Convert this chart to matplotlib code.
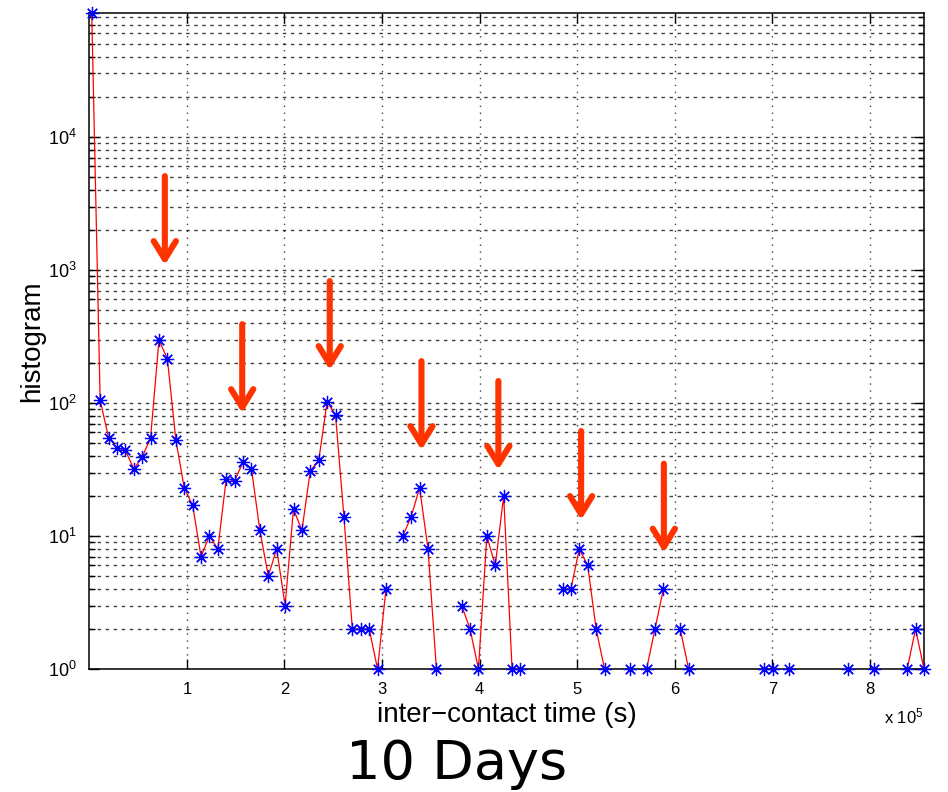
import numpy as np
import matplotlib
matplotlib.use('Agg')
import matplotlib.pyplot as plt
from matplotlib.ticker import FixedLocator, LogLocator, NullFormatter

plt.rcParams['font.family'] = ['Liberation Sans', 'DejaVu Sans']
plt.rcParams['mathtext.fontset'] = 'custom'
plt.rcParams['mathtext.rm'] = 'Liberation Sans'
plt.rcParams['mathtext.default'] = 'regular'

# histogram of inter-contact times, 100 bins (zero bins are not drawn on log axis)
bin_first = 2500.0
bin_width = 8615.0
counts = [85500, 105, 55, 46, 44, 32, 39, 55, 298, 214,
          53, 23, 17, 7, 10, 8, 27, 26, 36, 32,
          11, 5, 8, 3, 16, 11, 31, 37, 102, 81,
          14, 2, 2, 2, 1, 4, 0, 10, 14, 23,
          8, 1, 0, 0, 3, 2, 1, 10, 6, 20,
          1, 1, 0, 0, 0, 0, 4, 4, 8, 6,
          2, 1, 0, 0, 1, 0, 1, 2, 4, 0,
          2, 1, 0, 0, 0, 0, 0, 0, 0, 0,
          1, 1, 0, 1, 0, 0, 0, 0, 0, 0,
          1, 0, 0, 1, 0, 0, 0, 1, 2, 1]

# peaks marked with arrows (x of arrow, y of arrow tip)
arrow_x = [77400, 156700, 246400, 340400, 419200, 504000, 588800]
arrow_tip = [1090, 84, 177, 44.3, 31.4, 13.2, 7.5]

xtick_vals = [1e5, 2e5, 3e5, 4e5, 5e5, 6e5, 7e5, 8e5]
xtick_labels = ['1', '2', '3', '4', '5', '6', '7', '8']
ytick_vals = [1, 10, 100, 1000, 10000]
ytick_labels = ['$10^{0}$', '$10^{1}$', '$10^{2}$', '$10^{3}$', '$10^{4}$']

centers = bin_first + bin_width * np.arange(len(counts))
y = np.array(counts, dtype=float)
y[y == 0] = np.nan

fig = plt.figure(figsize=(9.48, 7.92), dpi=100)
ax = fig.add_axes([0.0942, 0.1553, 0.8805, 0.8283])

ax.plot(centers, y, color='red', lw=0.9, zorder=3)
ax.plot(centers, y, ls='none', marker=(8, 2, 0), ms=9.5, mec='blue', mew=0.9,
        color='blue', zorder=4, clip_on=False)

ax.set_yscale('log')
ax.set_xlim(0, 855400)
ax.set_ylim(1, 85500)

ax.xaxis.set_major_locator(FixedLocator(xtick_vals))
ax.set_xticklabels(xtick_labels)
ax.yaxis.set_major_locator(FixedLocator(ytick_vals))
ax.set_yticklabels(ytick_labels)
ax.yaxis.set_minor_locator(LogLocator(base=10, subs=np.arange(2, 10), numticks=20))
ax.yaxis.set_minor_formatter(NullFormatter())

ax.tick_params(which='both', direction='in', top=True, right=True, width=1.0)
ax.tick_params(which='major', length=7)
ax.tick_params(which='minor', length=4)
ax.tick_params(axis='x', labelsize=12, pad=9)
ax.tick_params(axis='y', labelsize=13, pad=9)

grid_style = dict(color='black', lw=1.0, ls=(0, (2.5, 3.3)), alpha=0.75)
ax.grid(True, which='both', axis='y', **grid_style)
ax.grid(True, which='major', axis='x', color='black', lw=1.0, ls=(0, (1, 4)), alpha=0.75)

for s in ax.spines.values():
    s.set_linewidth(1.1)

ax.set_xlabel('inter\u2212contact time (s)', fontsize=20, va='top')
ax.xaxis.set_label_coords(0.5, -0.05)
ax.set_ylabel('histogram', fontsize=20)
ax.yaxis.set_label_coords(-0.053, 0.5)

ax.text(1.0, -0.072, r'x $10^{5}$', transform=ax.transAxes, ha='right', va='center',
        fontsize=12)

for xa, ya in zip(arrow_x, arrow_tip):
    ax.annotate('', xy=(xa, ya), xytext=(0, 64), textcoords='offset points',
                arrowprops=dict(arrowstyle='->, head_length=1.3, head_width=0.8',
                                color='#ff3300', lw=4.4, shrinkA=0, shrinkB=0,
                                mutation_scale=10),
                zorder=5)

fig.text(457 / 948, 1 - 779 / 792, '10 Days', ha='center', va='baseline',
         fontsize=39, family='DejaVu Sans')

fig.savefig('out.png', dpi=100)
